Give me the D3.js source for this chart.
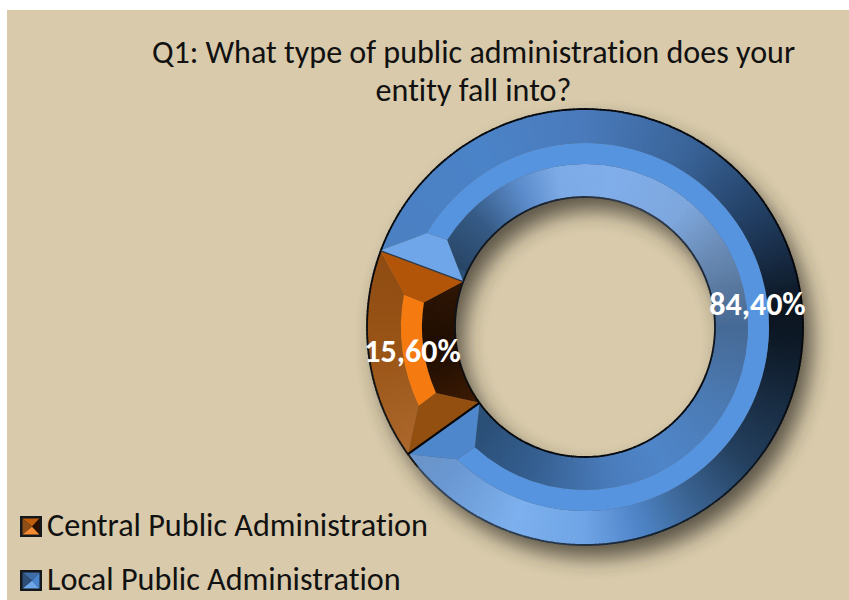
<!DOCTYPE html>
<html>
<head>
<meta charset="utf-8">
<script src="https://cdn.jsdelivr.net/npm/d3@7/dist/d3.min.js"></script>
<style>
html,body{margin:0;padding:0;background:#fff}
svg{display:block}
text{font-family:Carlito,Lato,"Open Sans",sans-serif;font-variant-ligatures:none}
</style>
</head>
<body>
<svg id="chart" width="849" height="600"></svg>
<script>
// Survey answers
const categories = ["Central Public Administration", "Local Public Administration"];
const values = [15.6, 84.4];
const valueLabels = ["15,60%", "84,40%"];
const titleLines = ["Q1: What type of public administration does your", "entity fall into?"];

// Donut geometry
const cx = 585, cy = 327;
const rOuter = 218, rBandOut = 184, rBandIn = 163, rInner = 130, rLabel = 174;
const startDeg = 234.3;
const miterOut = 10.3, miterIn = 11.8;

// Lighting ramps, keyed by clockwise degrees from twelve o'clock
const blueOuterStops = [[-70,"#4b80c2"],[-30,"#4b83c8"],[0,"#4a7abb"],[30,"#3a6499"],[60,"#1f3a5c"],[85,"#0c1520"],[95,"#0e1a28"],[130,"#24405f"],[150,"#3c6696"],[165,"#4f85c8"],[180,"#6fa5e6"],[200,"#7db0ee"],[222,"#6a98d2"],[235,"#6a93c6"]];
const blueInnerStops = [[-65,"#284566"],[-45,"#355a85"],[-25,"#5c8ccb"],[-10,"#7dabe7"],[10,"#80aeeb"],[40,"#7ea7dd"],[60,"#6a8bb5"],[75,"#58789f"],[90,"#466a96"],[120,"#4b7ab4"],[150,"#4f86c9"],[170,"#4a7cbc"],[200,"#355f91"],[225,"#2b5078"]];
const orangeOuterStops = [[234,"#ad682d"],[262,"#9a5517"],[290,"#8f4c12"]];
const orangeInnerStops = [[234,"#3f1c04"],[262,"#1e0d02"],[290,"#301603"]];
const edgeOuterStops = [[-130,"#1a1a1a"],[-70,"#05080c"],[100,"#05080c"],[160,"#14202e"],[190,"#2a3a4e"],[235,"#3a4a5e"]];
const edgeInnerStops = [[-130,"#0a0a0a"],[-30,"#141b26"],[20,"#333d4e"],[70,"#1d2735"],[120,"#05080c"],[230,"#05080c"]];

const seriesStyle = [
  {flat:"#f57a10", startFacet:"#934f10", endFacet:"#b25508", outer:orangeOuterStops, inner:orangeInnerStops, swatch:["#c25e0a","#f58a30","#8e4e15","#2a1000"]},
  {flat:"#5694e0", startFacet:"#6fa6ea", endFacet:"#4f87cc", outer:blueOuterStops, inner:blueInnerStops, swatch:["#3f6da8","#6ea6ea","#2d4f78","#4a86d0"]}
];

const rad = d => d * Math.PI / 180;
const deg = r => r * 180 / Math.PI;
const svg = d3.select("#chart");

svg.append("rect").attr("x",7).attr("y",10).attr("width",842).attr("height",590).attr("fill","#d8caab");

const defs = svg.append("defs");
defs.append("filter").attr("id","ringShadow")
  .attr("x","-20%").attr("y","-20%").attr("width","140%").attr("height","140%")
  .append("feGaussianBlur").attr("stdDeviation",10);

const ring = d3.arc();
const pie = d3.pie().sort(null).startAngle(rad(startDeg)).endAngle(rad(startDeg + 360));
const arcs = pie(values);

const root = svg.append("g").attr("transform",`translate(${cx},${cy})`);

// Soft shadow thrown down and to the right, visible inside the hole as well
root.append("path")
  .attr("d", ring({innerRadius:rInner, outerRadius:rOuter, startAngle:0, endAngle:2*Math.PI}))
  .attr("transform","translate(9,13)")
  .attr("fill","#2e2a22").attr("opacity",0.72)
  .attr("filter","url(#ringShadow)");

const polar = (r, a) => [r * Math.sin(a), -r * Math.cos(a)];
const rampOf = stops => d3.scaleLinear().domain(stops.map(s => s[0])).range(stops.map(s => s[1])).interpolate(d3.interpolateRgb).clamp(true);

// Closed band whose two radii span different angular ranges (a mitred facet)
function facetPath(r1, a1s, a1e, r2, a2s, a2e) {
  const p = d3.path();
  p.arc(0, 0, r1, a1s - Math.PI/2, a1e - Math.PI/2, false);
  p.arc(0, 0, r2, a2e - Math.PI/2, a2s - Math.PI/2, true);
  p.closePath();
  return p.toString();
}

let clipId = 0;
// Paints a clipped region with thin wedges coloured by the lighting ramp
function conicFill(parent, clipD, stops, a0, a1, r0, r1) {
  const id = "facet" + (clipId++);
  defs.append("clipPath").attr("id", id).append("path").attr("d", clipD);
  const ramp = rampOf(stops);
  const stepDeg = 0.75, wrap = stops[0][0] < 0;
  const g = parent.append("g").attr("clip-path",`url(#${id})`);
  g.selectAll("path").data(d3.range(deg(a0), deg(a1), stepDeg)).join("path")
    .attr("d", d => ring({innerRadius:r0, outerRadius:r1, startAngle:rad(d), endAngle:rad(d + stepDeg + 0.25)}))
    .attr("fill", d => {
      let v = d + stepDeg/2;
      if (wrap) { v = ((v + 180) % 360 + 360) % 360 - 180; if (v < stops[0][0]) v += 360; }
      return ramp(v);
    });
}

arcs.forEach((d, i) => {
  const st = seriesStyle[i];
  const a0 = d.startAngle, a1 = d.endAngle;
  const mo = rad(miterOut), mi = rad(miterIn);
  const g = root.append("g");

  conicFill(g, facetPath(rOuter, a0, a1, rBandOut, a0 + mo, a1 - mo), st.outer, a0, a1, rBandOut - 1, rOuter + 1);
  conicFill(g, facetPath(rBandIn, a0 + mi, a1 - mi, rInner, a0, a1), st.inner, a0, a1, rInner - 1, rBandIn + 1);

  g.append("path").attr("d", facetPath(rBandOut, a0 + mo, a1 - mo, rBandIn, a0 + mi, a1 - mi)).attr("fill", st.flat);

  const endFacet = (a, sign) => "M" + [
    polar(rOuter, a), polar(rBandOut, a + sign * mo), polar(rBandIn, a + sign * mi), polar(rInner, a)
  ].map(c => c.join(",")).join("L") + "Z";
  g.append("path").attr("d", endFacet(a0, 1)).attr("fill", st.startFacet);
  g.append("path").attr("d", endFacet(a1, -1)).attr("fill", st.endFacet);
});

// Rim lines around both circles
const rimG = root.append("g");
function rim(r, stops) {
  const ramp = rampOf(stops);
  rimG.append("g").selectAll("path").data(d3.range(-130, 230, 1)).join("path")
    .attr("d", a => ring({innerRadius:r - 0.9, outerRadius:r + 0.9, startAngle:rad(a), endAngle:rad(a + 1.2)}))
    .attr("fill", a => ramp(a));
}
rim(rOuter, edgeOuterStops);
rim(rInner, edgeInnerStops);

// Seams between the two slices
const seam = (a, color, w) => {
  const [x1,y1] = polar(rInner, a), [x2,y2] = polar(rOuter, a);
  root.append("line").attr("x1",x1).attr("y1",y1).attr("x2",x2).attr("y2",y2)
    .attr("stroke",color).attr("stroke-width",w);
};
seam(arcs[0].startAngle, "#05070a", 2.2);
seam(arcs[0].endAngle, "#2d3a4a", 1.3);

// Value labels sit on the arc centroid
const labelArc = d3.arc().innerRadius(rLabel).outerRadius(rLabel);
root.selectAll("text.value").data(arcs).join("text").attr("class","value")
  .attr("transform", d => `translate(${labelArc.centroid(d)})`)
  .attr("text-anchor","middle").attr("dy","0.36em")
  .attr("font-size",32).attr("font-weight",700).attr("fill","#fff")
  .text((d,i) => valueLabels[i]);

// Title
svg.append("g").selectAll("text").data(titleLines).join("text")
  .attr("x",473.5).attr("y",(d,i) => 63 + i*38)
  .attr("text-anchor","middle").attr("font-size",32.1).attr("fill","#111")
  .text(d => d);

// Legend
const legendY = d3.scalePoint().domain(categories).range([526.5, 580.5]);
const legend = svg.append("g").selectAll("g").data(categories).join("g")
  .attr("transform", d => `translate(20,${legendY(d)})`);
legend.append("rect").attr("x",0).attr("y",-10.5).attr("width",22).attr("height",21).attr("fill","#14171b");
legend.each(function(d,i){
  const s = seriesStyle[i].swatch, g = d3.select(this);
  const L=2.5,R=19.5,T=-8,B=8,mx=12,my=0;
  const tri = (pts,c)=>g.append("path").attr("d","M"+pts.map(p=>p.join(",")).join("L")+"Z").attr("fill",c);
  tri([[L,T],[R,T],[mx,my]], s[0]);
  tri([[L,B],[R,B],[mx,my]], s[1]);
  tri([[L,T],[L,B],[mx,my]], s[2]);
  tri([[R,T],[R,B],[mx,my]], s[3]);
});
legend.append("text").attr("x",27).attr("y",9)
  .attr("font-size",32.2).attr("fill","#111").text(d => d);
</script>
</body>
</html>
